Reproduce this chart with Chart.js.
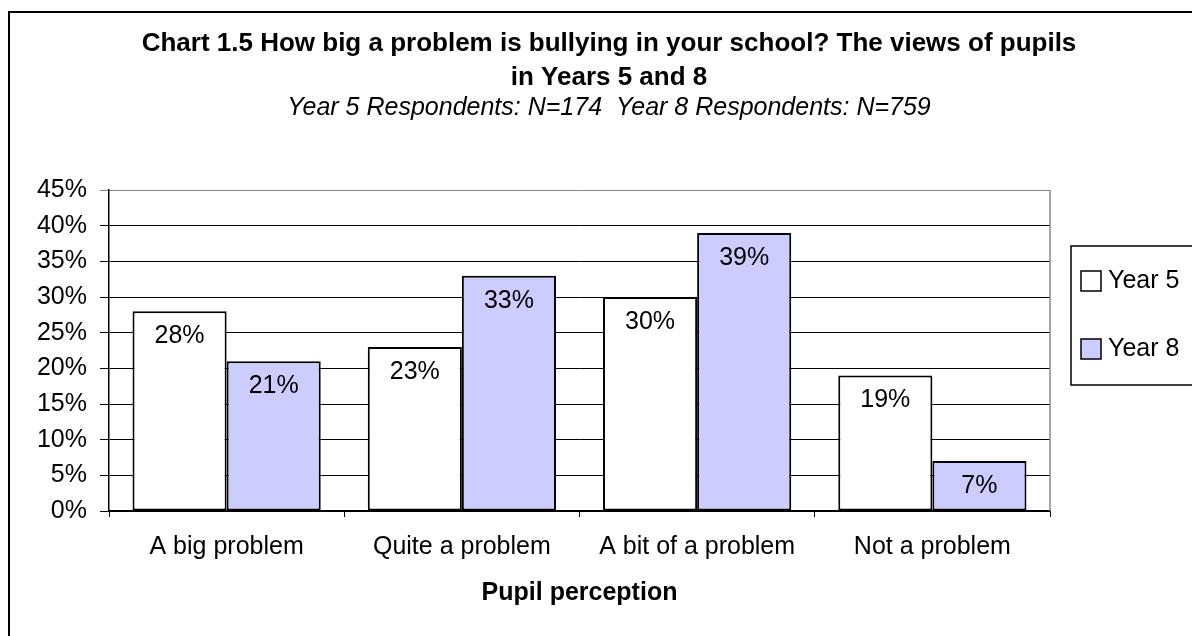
<!DOCTYPE html>
<html>
<head>
<meta charset="utf-8">
<script src="https://cdn.jsdelivr.net/npm/chart.js@4"></script>
<style>
  html, body { margin: 0; padding: 0; background: #fff; overflow: hidden; }
  #frame { position: absolute; left: 8px; top: 11px; width: 1300px; height: 700px; border: 2px solid #000; }
  #chart { position: absolute; left: 0; top: 0; }
</style>
</head>
<body>
<div id="frame"></div>
<canvas id="chart" width="1218" height="636"></canvas>
<script>
const FONT = "Arial, 'Liberation Sans', sans-serif";

const categories = ["A big problem", "Quite a problem", "A bit of a problem", "Not a problem"];
const year5 = [28, 23, 30, 19];
const year8 = [21, 33, 39, 7];
const seriesNames = ["Year 5", "Year 8"];
const seriesColors = ["#ffffff", "#ccccff"];

// value labels just inside the top of each bar
const barLabels = {
  id: "barLabels",
  afterDatasetsDraw(chart) {
    const ctx = chart.ctx;
    ctx.save();
    ctx.font = "25px " + FONT;
    ctx.fillStyle = "#000";
    ctx.textAlign = "center";
    ctx.textBaseline = "middle";
    chart.data.datasets.forEach((ds, i) => {
      chart.getDatasetMeta(i).data.forEach((bar, j) => {
        ctx.fillText(ds.data[j] + "%", bar.x, bar.y + 25);
      });
    });
    ctx.restore();
  }
};

// grey right edge of the plot area
const plotEdge = {
  id: "plotEdge",
  beforeDatasetsDraw(chart) {
    const { ctx, chartArea } = chart;
    ctx.save();
    ctx.strokeStyle = "#888";
    ctx.lineWidth = 1.5;
    ctx.beginPath();
    ctx.moveTo(chartArea.right, chartArea.top);
    ctx.lineTo(chartArea.right, chartArea.bottom);
    ctx.stroke();
    ctx.restore();
  }
};

// boxed legend to the right of the plot
const sideLegend = {
  id: "sideLegend",
  afterDraw(chart) {
    const { ctx, chartArea } = chart;
    const left = chartArea.right + 21;
    const top = 246;
    const bottom = 385;
    ctx.save();
    ctx.strokeStyle = "#000";
    ctx.lineWidth = 1.5;
    ctx.strokeRect(left, top, 200, bottom - top);
    ctx.font = "25px " + FONT;
    ctx.textBaseline = "middle";
    ctx.textAlign = "left";
    chart.data.datasets.forEach((ds, i) => {
      const cy = 281 + i * 68;
      ctx.fillStyle = ds.backgroundColor;
      ctx.fillRect(left + 10, cy - 10, 20, 20);
      ctx.strokeRect(left + 10, cy - 10, 20, 20);
      ctx.fillStyle = "#000";
      ctx.fillText(ds.label, left + 37, cy);
    });
    ctx.restore();
  }
};

new Chart(document.getElementById("chart"), {
  type: "bar",
  data: {
    labels: categories,
    datasets: [
      {
        label: seriesNames[0],
        data: year5,
        backgroundColor: seriesColors[0],
        borderColor: "#000",
        borderWidth: 2,
        borderSkipped: false
      },
      {
        label: seriesNames[1],
        data: year8,
        backgroundColor: seriesColors[1],
        borderColor: "#000",
        borderWidth: 2,
        borderSkipped: false
      }
    ]
  },
  options: {
    responsive: false,
    animation: false,
    layout: { padding: 0 },
    datasets: {
      bar: { categoryPercentage: 0.8, barPercentage: 1.0 }
    },
    plugins: {
      legend: { display: false },
      tooltip: { enabled: false },
      title: {
        display: true,
        text: [
          "Chart 1.5 How big a problem is bullying in your school? The views of pupils",
          "in Years 5 and 8"
        ],
        color: "#000",
        font: { family: FONT, size: 26, weight: "bold", lineHeight: 1.3 },
        padding: { top: 27, bottom: 0 }
      },
      subtitle: {
        display: true,
        text: "Year 5 Respondents: N=174  Year 8 Respondents: N=759",
        color: "#000",
        font: { family: FONT, size: 25, style: "italic", lineHeight: 1.1 },
        padding: { top: 0, bottom: 68 }
      }
    },
    scales: {
      x: {
        grid: {
          display: true,
          drawOnChartArea: false,
          drawTicks: true,
          tickLength: 6,
          color: "#000",
          offset: true
        },
        border: { display: true, color: "#000", width: 1.5 },
        ticks: {
          color: "#000",
          padding: 15,
          font: { family: FONT, size: 25 }
        },
        title: {
          display: true,
          text: "Pupil perception",
          color: "#000",
          font: { family: FONT, size: 25, weight: "bold" },
          padding: { top: 1, bottom: 28 }
        }
      },
      y: {
        min: 0,
        max: 45,
        grid: {
          color: (c) => (c.tick && c.tick.value === 45 ? "#888" : "#000"),
          lineWidth: 1,
          tickLength: 9
        },
        border: { display: true, color: "#000", width: 1.5 },
        ticks: {
          stepSize: 5,
          color: "#000",
          padding: 13,
          font: { family: FONT, size: 25 },
          callback: (v) => v + "%"
        },
        afterFit: (scale) => { scale.width = 109; }
      },
      // empty axis that reserves room for the legend on the right
      yRight: {
        position: "right",
        display: true,
        grid: { display: false },
        border: { display: false },
        ticks: { display: false },
        afterFit: (scale) => { scale.width = 168; }
      }
    }
  },
  plugins: [plotEdge, barLabels, sideLegend]
});
</script>
</body>
</html>
